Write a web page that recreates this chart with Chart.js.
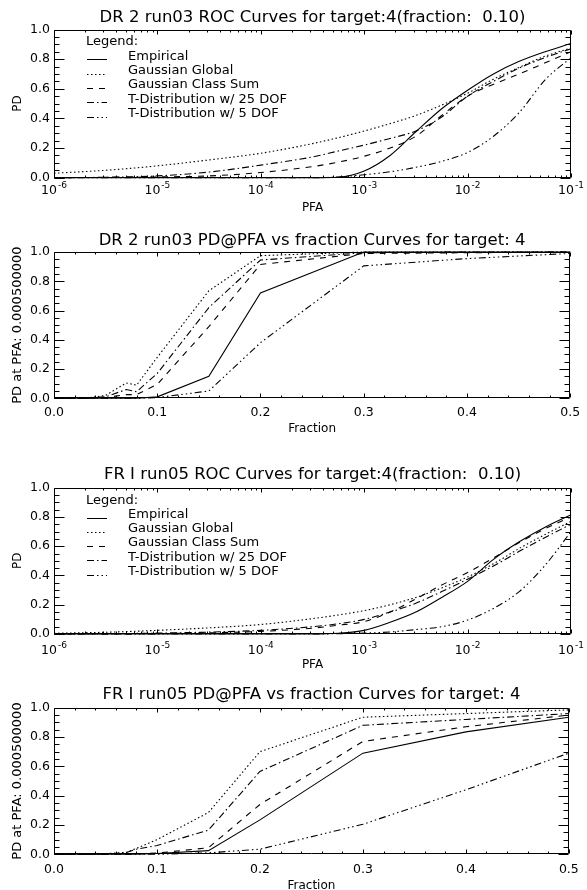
<!DOCTYPE html>
<html><head><meta charset="utf-8">
<script src="https://cdn.jsdelivr.net/npm/chart.js@4.4.0/dist/chart.umd.min.js"></script>
<style>
html,body{margin:0;padding:0;background:#fff;overflow:hidden;}
#wrap{position:relative;width:587px;height:890px;background:#fff;}
canvas{position:absolute;left:0;}
</style></head><body>
<div id="wrap">
<canvas id="c1" width="587" height="220" style="top:0px"></canvas>
<canvas id="c2" width="587" height="220" style="top:220px"></canvas>
<canvas id="c3" width="587" height="235" style="top:440px"></canvas>
<canvas id="c4" width="587" height="225" style="top:675px"></canvas>
</div>
<script>
// ---------- DATA ----------
const seriesLabels = ['Empirical', 'Gaussian Global', 'Gaussian Class Sum',
  'T-Distribution w/ 25 DOF', 'T-Distribution w/ 5 DOF'];
const legendTitle = 'Legend:';

const titles = [
  'DR 2 run03 ROC Curves for target:4(fraction:  0.10)',
  'DR 2 run03 PD@PFA vs fraction Curves for target: 4',
  'FR I run05 ROC Curves for target:4(fraction:  0.10)',
  'FR I run05 PD@PFA vs fraction Curves for target: 4'
];
const rocXTitle = 'PFA';
const rocYTitle = 'PD';
const fracXTitle = 'Fraction';
const fracYTitle = 'PD at PFA: 0.000500000';

const logTickExps = [-6, -5, -4, -3, -2, -1];
const yTickValues = [0, 0.2, 0.4, 0.6, 0.8, 1.0];
const fracTickValues = [0, 0.1, 0.2, 0.3, 0.4, 0.5];

// PFA sample points (ROC curves)
const pfa = [1e-6, 3.16e-6, 1e-5, 3.16e-5, 1e-4, 3.16e-4, 5.62e-4, 1e-3,
  1.78e-3, 3.16e-3, 5.62e-3, 1e-2, 1.78e-2, 3.16e-2, 5.62e-2, 1e-1];

// DR 2 run03 ROC
const dr2RocEmp = [0, 0, 0, 0, 0, 0, 0.003, 0.045, 0.15, 0.31, 0.465, 0.59, 0.70, 0.785, 0.85, 0.905];
const dr2RocGG  = [0.03, 0.05, 0.08, 0.12, 0.165, 0.23, 0.27, 0.315, 0.365, 0.42, 0.49, 0.57, 0.665, 0.745, 0.82, 0.875];
const dr2RocGCS = [0, 0.002, 0.005, 0.012, 0.035, 0.075, 0.105, 0.145, 0.2, 0.28, 0.42, 0.55, 0.63, 0.70, 0.775, 0.85];
const dr2RocT25 = [0, 0.003, 0.012, 0.038, 0.085, 0.14, 0.18, 0.22, 0.265, 0.315, 0.41, 0.55, 0.65, 0.74, 0.81, 0.87];
const dr2RocT5  = [0, 0, 0, 0, 0, 0, 0.005, 0.02, 0.04, 0.07, 0.11, 0.17, 0.28, 0.44, 0.66, 0.81];

// fraction sample points
const fractions = [0, 0.03, 0.05, 0.07, 0.08, 0.1, 0.15, 0.2, 0.3, 0.4, 0.5];

// DR 2 run03 PD@PFA vs fraction
const dr2FracEmp = [0, 0, 0, 0, 0, 0.01, 0.15, 0.72, 1.0, 1.0, 1.0];
const dr2FracGG  = [0, 0, 0.02, 0.105, 0.09, 0.28, 0.735, 0.975, 1.0, 1.0, 1.0];
const dr2FracGCS = [0, 0, 0.005, 0.025, 0.025, 0.095, 0.49, 0.915, 0.99, 0.995, 1.0];
const dr2FracT25 = [0, 0, 0.01, 0.06, 0.045, 0.17, 0.62, 0.945, 0.995, 1.0, 1.0];
const dr2FracT5  = [0, 0, 0, 0, 0, 0.005, 0.05, 0.38, 0.905, 0.955, 0.99];

// FR I run05 ROC
const fr1RocEmp = [0, 0, 0, 0, 0, 0, 0.005, 0.025, 0.08, 0.15, 0.25, 0.36, 0.51, 0.63, 0.73, 0.815];
const fr1RocGG  = [0.005, 0.012, 0.025, 0.042, 0.065, 0.105, 0.13, 0.16, 0.2, 0.25, 0.315, 0.39, 0.48, 0.585, 0.68, 0.77];
const fr1RocGCS = [0, 0, 0.003, 0.008, 0.018, 0.04, 0.06, 0.085, 0.15, 0.24, 0.335, 0.42, 0.52, 0.625, 0.72, 0.80];
const fr1RocT25 = [0, 0.002, 0.006, 0.013, 0.025, 0.05, 0.07, 0.1, 0.15, 0.21, 0.29, 0.375, 0.465, 0.565, 0.66, 0.75];
const fr1RocT5  = [0, 0, 0, 0, 0, 0, 0.002, 0.006, 0.014, 0.03, 0.05, 0.095, 0.175, 0.29, 0.47, 0.70];

// FR I run05 PD@PFA vs fraction
const fr1FracEmp = [0, 0, 0, 0, 0, 0.005, 0.025, 0.235, 0.69, 0.835, 0.935];
const fr1FracGG  = [0, 0, 0.005, 0.012, 0.04, 0.10, 0.285, 0.70, 0.935, 0.96, 0.985];
const fr1FracGCS = [0, 0, 0, 0, 0.003, 0.008, 0.045, 0.34, 0.77, 0.87, 0.95];
const fr1FracT25 = [0, 0, 0, 0.012, 0.035, 0.06, 0.165, 0.565, 0.88, 0.92, 0.96];
const fr1FracT5  = [0, 0, 0, 0, 0, 0, 0.01, 0.035, 0.205, 0.44, 0.69];

// ---------- STYLE ----------
const FONT = "'DejaVu Sans', sans-serif";
Chart.defaults.font.family = FONT;
Chart.defaults.color = '#000';
const dashes = [[], [1.5, 2.5], [6, 6], [7, 3, 1.5, 3], [7, 3, 1.5, 3, 1.5, 3, 1.5, 3]];

// box + inward ticks on all four sides (IDL style), plus log-axis labels with exponents
const idlAxes = {
  id: 'idlAxes',
  afterDatasetsDraw(chart, args, opts) {
    const {ctx, chartArea: a, scales: {x, y}} = chart;
    const L = Math.round(a.left) + 0.5, R = Math.round(a.right) - 0.5;
    const T = Math.round(a.top) + 0.5, B = Math.round(a.bottom) - 0.5;
    ctx.save();
    ctx.strokeStyle = '#000'; ctx.lineWidth = 1; ctx.setLineDash([]);
    ctx.beginPath();
    ctx.rect(L, T, R - L, B - T);
    const xt = (v, len) => {
      const p = Math.round(x.getPixelForValue(v)) + 0.5;
      ctx.moveTo(p, B); ctx.lineTo(p, B - len);
      ctx.moveTo(p, T); ctx.lineTo(p, T + len);
    };
    const yt = (v, len) => {
      const p = Math.round(y.getPixelForValue(v)) + 0.5;
      ctx.moveTo(L, p); ctx.lineTo(L + len, p);
      ctx.moveTo(R, p); ctx.lineTo(R - len, p);
    };
    opts.xMajor.forEach(v => xt(v, 4));
    opts.xMinor.forEach(v => xt(v, 2));
    opts.yMajor.forEach(v => yt(v, 10));
    opts.yMinor.forEach(v => yt(v, 5));
    ctx.stroke();

    if (opts.logLabels) {
      ctx.fillStyle = '#000';
      ctx.textBaseline = 'middle';
      ctx.textAlign = 'left';
      const baseFont = opts.logLabels.size + 'px ' + FONT;
      const expFont = opts.logLabels.expSize + 'px ' + FONT;
      const cy = opts.logLabels.y;
      logTickExps.forEach(e => {
        const px = x.getPixelForValue(Math.pow(10, e));
        const es = String(e);
        ctx.font = baseFont; const wb = ctx.measureText('10').width;
        ctx.font = expFont; const we = ctx.measureText(es).width;
        const x0 = px - (wb + we + 1) / 2;
        ctx.font = baseFont; ctx.fillText('10', x0, cy);
        ctx.font = expFont; ctx.fillText(es, x0 + wb + 1, cy - 5);
      });
    }
    ctx.restore();
  }
};

const idlLegend = {
  id: 'idlLegend',
  afterDatasetsDraw(chart, args, opts) {
    if (!opts || !opts.show) return;
    const {ctx, chartArea: a} = chart;
    ctx.save();
    ctx.fillStyle = '#000'; ctx.strokeStyle = '#000'; ctx.lineWidth = 1;
    ctx.font = "13px " + FONT;
    ctx.textBaseline = 'middle';
    ctx.textAlign = 'left';
    const x0 = a.left + 32;
    ctx.fillText(opts.title, x0, a.top + 12.5);
    chart.data.datasets.forEach((ds, i) => {
      const yy = a.top + 26.8 + i * 14.3;
      const ly = Math.round(yy + 3) + 0.5;
      ctx.setLineDash(ds.borderDash || []);
      ctx.beginPath(); ctx.moveTo(x0 + 1, ly); ctx.lineTo(x0 + 21, ly); ctx.stroke();
      ctx.setLineDash([]);
      ctx.fillText(ds.label, a.left + 74, yy);
    });
    ctx.restore();
  }
};

function makeDatasets(xs, series, smooth) {
  return series.map((vals, i) => ({
    label: seriesLabels[i],
    data: xs.map((xv, j) => ({x: xv, y: vals[j]})),
    borderColor: '#000',
    borderWidth: 1.1,
    borderDash: dashes[i],
    pointRadius: 0,
    fill: false,
    clip: 6,
    tension: 0,
    cubicInterpolationMode: smooth ? 'monotone' : 'default'
  }));
}

function makeChart(id, L, kind, series, title) {
  const isRoc = kind === 'roc';
  const titleFs = 16.5, titleLh = titleFs * 1.2;
  const tickFs = 12.5, tickLh = tickFs * 1.2;
  const axFs = 12, axLh = axFs * 1.2;
  const yTitleFs = isRoc ? 12 : 13, yTitleLh = yTitleFs * 1.2;

  let xMajor, xMinor;
  if (isRoc) {
    xMajor = logTickExps.map(e => Math.pow(10, e));
    xMinor = [];
    for (let e = -6; e < -1; e++) for (let m = 2; m <= 9; m++) xMinor.push(m * Math.pow(10, e));
  } else {
    xMajor = fracTickValues.slice();
    xMinor = [];
    for (let k = 1; k < 25; k++) if (k % 5) xMinor.push(k * 0.02);
  }
  const yMinor = [];
  for (let k = 1; k < 20; k++) if (k % 4) yMinor.push(k * 0.05);

  const xScale = isRoc ? {
    type: 'logarithmic', min: 1e-6, max: 1e-1,
    afterBuildTicks: s => { s.ticks = logTickExps.map(e => ({value: Math.pow(10, e)})); },
    ticks: {
      display: false,
      font: {size: tickFs}, padding: L.xLab - L.bottom - tickLh / 2, maxRotation: 0, autoSkip: false
    }
  } : {
    type: 'linear', min: 0, max: 0.5,
    afterBuildTicks: s => { s.ticks = fracTickValues.map(v => ({value: v})); },
    ticks: {
      callback: v => Number(v).toFixed(1),
      font: {size: tickFs}, padding: L.xLab - L.bottom - tickLh / 2, maxRotation: 0, autoSkip: false
    }
  };
  Object.assign(xScale, {
    grid: {display: false, drawTicks: false},
    border: {display: false},
    title: {display: true, text: isRoc ? rocXTitle : fracXTitle, font: {size: axFs},
      padding: {top: 0, bottom: L.H - L.xTit - axLh / 2}},
    afterFit: s => { s.height = L.H - L.bottom; }
  });

  const xs = isRoc ? pfa : fractions;
  return new Chart(document.getElementById(id), {
    type: 'line',
    data: {datasets: makeDatasets(xs, series, isRoc)},
    options: {
      responsive: false, animation: false, devicePixelRatio: 1,
      layout: {padding: {left: 0, right: 16, top: 0, bottom: 0}},
      scales: {
        x: xScale,
        y: {
          type: 'linear', min: 0, max: 1,
          afterBuildTicks: s => { s.ticks = yTickValues.map(v => ({value: v})); },
          ticks: {callback: v => Number(v).toFixed(1), font: {size: tickFs}, padding: 4},
          grid: {display: false, drawTicks: false},
          border: {display: false},
          title: {display: true, text: isRoc ? rocYTitle : fracYTitle, font: {size: yTitleFs},
            padding: {top: 18 - yTitleLh / 2, bottom: 0}},
          afterFit: s => { s.width = 54; }
        }
      },
      plugins: {
        legend: {display: false},
        tooltip: {enabled: false},
        title: {
          display: true, text: title, fullSize: false,
          font: {size: titleFs, weight: 'normal', lineHeight: 1.2},
          padding: {top: L.titleC - titleLh / 2, bottom: L.top - L.titleC - titleLh / 2}
        },
        idlAxes: {xMajor, xMinor, yMajor: yTickValues, yMinor,
          logLabels: isRoc ? {y: L.xLab + 1, size: tickFs, expSize: 9} : null},
        idlLegend: {show: isRoc, title: legendTitle}
      }
    },
    plugins: [idlAxes, idlLegend]
  });
}

const layouts = [
  {H: 220, titleC: 18, top: 29.5, bottom: 177.7, xLab: 190, xTit: 208},
  {H: 220, titleC: 21, top: 32, bottom: 178.3, xLab: 192.7, xTit: 209.3},
  {H: 235, titleC: 35, top: 47.7, bottom: 194, xLab: 210, xTit: 225},
  {H: 225, titleC: 20, top: 32.7, bottom: 179.3, xLab: 195, xTit: 211}
];

makeChart('c1', layouts[0], 'roc', [dr2RocEmp, dr2RocGG, dr2RocGCS, dr2RocT25, dr2RocT5], titles[0]);
makeChart('c2', layouts[1], 'frac', [dr2FracEmp, dr2FracGG, dr2FracGCS, dr2FracT25, dr2FracT5], titles[1]);
makeChart('c3', layouts[2], 'roc', [fr1RocEmp, fr1RocGG, fr1RocGCS, fr1RocT25, fr1RocT5], titles[2]);
makeChart('c4', layouts[3], 'frac', [fr1FracEmp, fr1FracGG, fr1FracGCS, fr1FracT25, fr1FracT5], titles[3]);
</script>
</body></html>
